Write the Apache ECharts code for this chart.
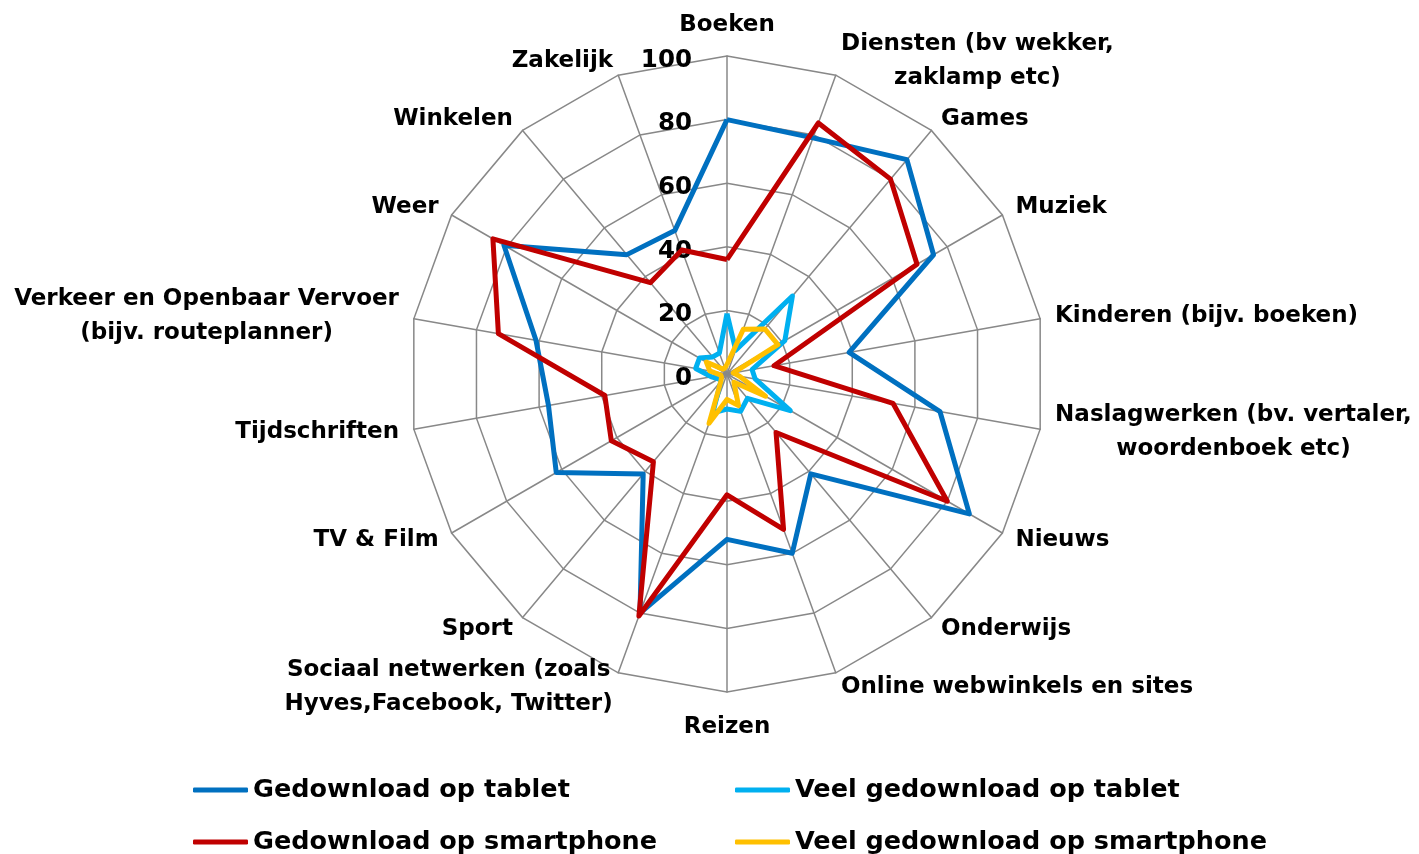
<!DOCTYPE html>
<html>
<head>
<meta charset="utf-8">
<title>Apps radar</title>
<script src="https://cdn.jsdelivr.net/npm/echarts@6/dist/echarts.min.js"></script>
<style>
  html, body { margin: 0; padding: 0; background: #fff; }
  #main { width: 1419px; height: 854px; }
</style>
</head>
<body>
<div id="main"></div>
<script>
// categories, clockwise from the top
const categories = [
    'Boeken',
    'Diensten (bv wekker,\nzaklamp etc)',
    'Games',
    'Muziek',
    'Kinderen (bijv. boeken)',
    'Naslagwerken (bv. vertaler,\nwoordenboek etc)',
    'Nieuws',
    'Onderwijs',
    'Online webwinkels en sites',
    'Reizen',
    'Sociaal netwerken (zoals\nHyves,Facebook, Twitter)',
    'Sport',
    'TV & Film',
    'Tijdschriften',
    'Verkeer en Openbaar Vervoer\n(bijv. routeplanner)',
    'Weer',
    'Winkelen',
    'Zakelijk'
];

const seriesNames = [
    'Gedownload op tablet',
    'Veel gedownload op tablet',
    'Gedownload op smartphone',
    'Veel gedownload op smartphone'
];

const tabletValues = [80, 79, 88, 75, 39, 68, 88, 41, 60, 52, 80, 41, 62, 57, 61, 81, 49, 48];
const veelTabletValues = [19, 8, 32, 21, 8, 9, 23, 10, 12.5, 11, 13, 3, 3, 5, 10, 10, 7, 7];
const smartphoneValues = [36, 84, 80, 69, 15, 53, 80, 24, 52, 38, 81, 36, 42, 39, 73, 85, 37.5, 41.5];
const veelSmartphoneValues = [3, 15, 18.5, 18.5, 2, 4, 14, 3.4, 10.6, 8, 16.5, 3, 2, 2, 5.5, 7.5, 2, 2];

const axisMax = 100;
const axisSplit = 5;

const colors = ['#0070C0', '#00B0F0', '#C00000', '#FFC000'];
const fontFamily = '"DejaVu Sans", sans-serif';

var dom = document.getElementById('main');
var myChart = echarts.init(dom, null, { renderer: 'canvas' });

// radar lays its axes out counter-clockwise, the chart goes clockwise
const n = categories.length;
const order = categories.map(function (c, k) { return (n - k) % n; });

// measure multi-line names so every line can be centred in its own block
const measureCtx = document.createElement('canvas').getContext('2d');
measureCtx.font = 'bold 23px ' + fontFamily;

const nameRich = {};
categories.forEach(function (name, i) {
    const lines = name.split('\n');
    if (lines.length > 1) {
        const w = Math.ceil(Math.max.apply(null, lines.map(function (l) {
            return measureCtx.measureText(l).width;
        })));
        nameRich['n' + i] = {
            width: w,
            align: 'center',
            fontSize: 23,
            fontWeight: 'bold',
            fontFamily: fontFamily,
            color: '#000',
            lineHeight: 34
        };
    }
});

const indicators = order.map(function (i) {
    const ind = { name: categories[i], min: 0, max: axisMax };
    // only the top axis carries the value labels
    if (i !== 0) {
        ind.axisLabel = { show: false };
    }
    if (i === 0) ind.nameGap = 14;
    if (i === n / 2) ind.nameGap = 18;
    return ind;
});

const seriesValues = [tabletValues, veelTabletValues, smartphoneValues, veelSmartphoneValues];

// one legend box per entry, in a 2 x 2 grid
const legendPos = [[193, 775], [735, 775], [193, 827], [735, 827]];
const legends = seriesNames.map(function (name, i) {
    return {
        left: legendPos[i][0],
        top: legendPos[i][1],
        data: [name],
        icon: 'roundRect',
        itemWidth: 55,
        itemHeight: 5,
        padding: 0,
        textStyle: { fontSize: 25.5, fontWeight: 'bold', fontFamily: fontFamily, color: '#000', lineHeight: 30 }
    };
});

var option = {
    backgroundColor: '#fff',
    animation: false,
    color: colors,
    legend: legends,
    radar: {
        center: [727, 374],
        radius: 318,
        startAngle: 90,
        shape: 'polygon',
        splitNumber: axisSplit,
        nameGap: 15,
        indicator: indicators,
        axisName: {
            color: '#000',
            fontSize: 23,
            fontWeight: 'bold',
            fontFamily: fontFamily,
            lineHeight: 34,
            formatter: function (name) {
                const idx = categories.indexOf(name);
                const lines = name.split('\n');
                if (lines.length === 1) return name;
                return lines.map(function (l) { return '{n' + idx + '|' + l + '}'; }).join('\n');
            },
            rich: nameRich
        },
        axisLine: { lineStyle: { color: '#888888', width: 1.5 } },
        splitLine: { lineStyle: { color: '#888888', width: 1.5 } },
        splitArea: { show: false },
        axisTick: { show: false },
        axisLabel: {
            show: true,
            margin: 35,
            color: '#000',
            fontSize: 24.5,
            fontWeight: 'bold',
            fontFamily: fontFamily,
            showMinLabel: true,
            showMaxLabel: true,
            // nudge the numbers a little below their ring, as in the original
            formatter: '{v|{value}}',
            rich: {
                v: {
                    padding: [9, 0, 0, 0],
                    color: '#000',
                    fontSize: 24.5,
                    fontWeight: 'bold',
                    fontFamily: fontFamily
                }
            }
        }
    },
    series: seriesNames.map(function (name, i) {
        return {
            name: name,
            type: 'radar',
            symbol: 'none',
            z: 2 + i,
            lineStyle: { width: 5, color: colors[i] },
            itemStyle: { color: colors[i] },
            data: [{ name: name, value: order.map(function (k) { return seriesValues[i][k]; }) }]
        };
    })
};

if (option && typeof option === 'object') {
    myChart.setOption(option);
}

window.addEventListener('resize', myChart.resize);
</script>
</body>
</html>
